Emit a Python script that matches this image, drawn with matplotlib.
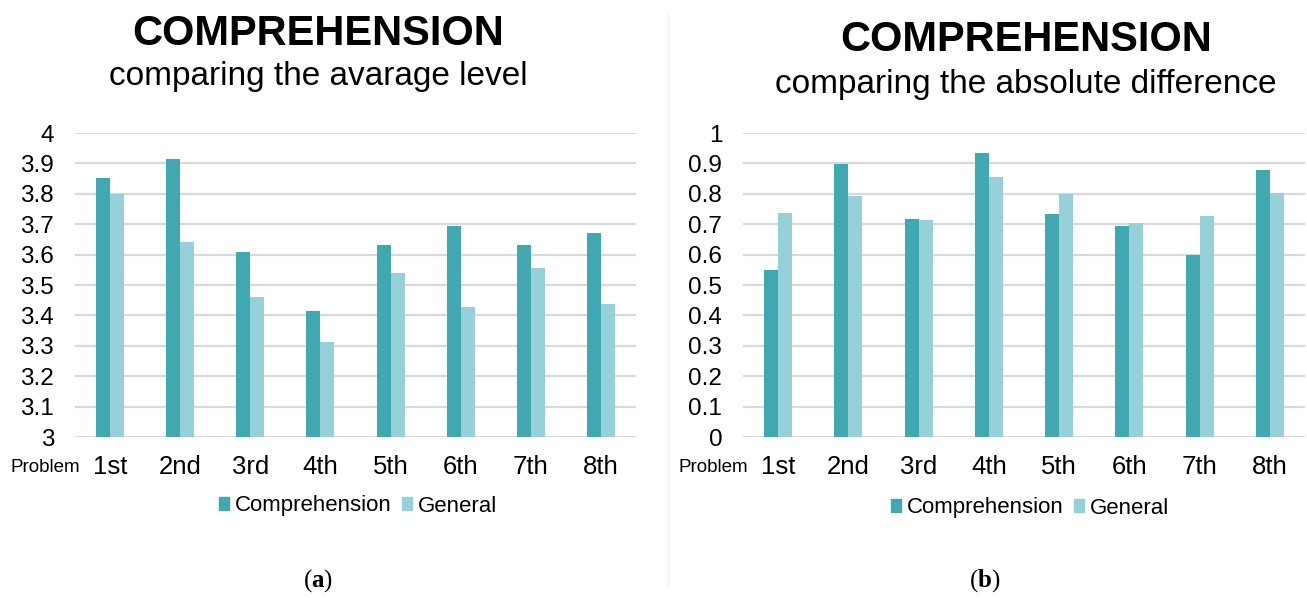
import matplotlib
matplotlib.use("Agg")
import matplotlib.pyplot as plt
import numpy as np
from matplotlib.patches import Patch
from matplotlib.lines import Line2D

plt.rcParams['font.family'] = ['Liberation Sans', 'DejaVu Sans']
plt.rcParams['mathtext.fontset'] = 'custom'
plt.rcParams['mathtext.bf'] = 'Liberation Serif:bold'
plt.rcParams['mathtext.rm'] = 'Liberation Serif'

problems = ['1st', '2nd', '3rd', '4th', '5th', '6th', '7th', '8th']
series_names = ['Comprehension', 'General']

# (a) average level
avg_comp = [3.852, 3.914, 3.608, 3.416, 3.631, 3.693, 3.633, 3.670]
avg_gen = [3.800, 3.640, 3.462, 3.312, 3.540, 3.429, 3.556, 3.437]

# (b) absolute difference
diff_comp = [0.549, 0.899, 0.717, 0.933, 0.735, 0.695, 0.600, 0.879]
diff_gen = [0.737, 0.794, 0.713, 0.856, 0.800, 0.705, 0.727, 0.802]

c_dark = '#40A8B0'
c_light = '#96D0D8'
grid_c = '#D9D9D9'

W, H = 1307, 598
fig = plt.figure(figsize=(W / 100, H / 100), dpi=100)


def draw(ax, comp, gen, ylim, yticks, ylabels):
    x = np.arange(len(problems))
    w = 0.2
    ax.bar(x - w / 2, np.array(comp) - ylim[0], w, bottom=ylim[0], color=c_dark, zorder=3)
    ax.bar(x + w / 2, np.array(gen) - ylim[0], w, bottom=ylim[0], color=c_light, zorder=3)
    ax.set_xlim(-0.5, len(problems) - 0.5)
    ax.set_ylim(ylim)
    ax.set_yticks(yticks)
    ax.set_yticklabels(ylabels)
    ax.set_xticks(x)
    ax.set_xticklabels(problems)
    for t in yticks:
        ax.axhline(t, color=grid_c, lw=1.6, zorder=1)
    for s in ax.spines.values():
        s.set_visible(False)
    ax.tick_params(axis='both', length=0, colors='black')
    ax.tick_params(axis='y', pad=15, labelsize=17.5)
    ax.tick_params(axis='x', pad=13, labelsize=18.5)


# panel (a)
ax1 = fig.add_axes([75 / W, 1 - 437 / H, 561 / W, 304 / H])
t1 = [round(3 + 0.1 * i, 1) for i in range(11)]
draw(ax1, avg_comp, avg_gen, (3, 4), t1, ['3' if v == 3 else '4' if v == 4 else str(v) for v in t1])

# panel (b)
ax2 = fig.add_axes([743 / W, 1 - 437 / H, 562 / W, 304 / H])
t2 = [round(0.1 * i, 1) for i in range(11)]
draw(ax2, diff_comp, diff_gen, (0, 1), t2, ['0' if v == 0 else '1' if v == 1 else str(v) for v in t2])

# titles
fig.text(318 / W, 1 - 34 / H, 'COMPREHENSION', ha='center', va='center', fontsize=30, fontweight='bold')
fig.text(318 / W, 1 - 77 / H, 'comparing the avarage level', ha='center', va='center', fontsize=24)
fig.text(1026 / W, 1 - 40 / H, 'COMPREHENSION', ha='center', va='center', fontsize=30, fontweight='bold')
fig.text(1026 / W, 1 - 84 / H, 'comparing the absolute difference', ha='center', va='center', fontsize=24)

# "Problem" labels
fig.text(45 / W, 1 - 468 / H, 'Problem', ha='center', va='center', fontsize=13.5)
fig.text(713 / W, 1 - 468 / H, 'Problem', ha='center', va='center', fontsize=13.5)

# legends
handles = [Patch(color=c_dark), Patch(color=c_light)]
for cx, cy in [(358, 506), (1030, 508)]:
    fig.legend(handles, series_names, loc='center', bbox_to_anchor=(cx / W, 1 - cy / H),
               ncol=2, frameon=False, fontsize=16, handlelength=0.45, handleheight=0.5,
               handletextpad=0.25, columnspacing=0.5)

# panel letters: plain parens, bold letter
fig.text(318 / W, 1 - 581 / H, r'($\mathbf{a}$)', ha='center', va='center', fontsize=18,
         family='Liberation Serif')
fig.text(985 / W, 1 - 581 / H, r'($\mathbf{b}$)', ha='center', va='center', fontsize=18,
         family='Liberation Serif')

# faint divider between the panels
fig.add_artist(Line2D([668 / W, 668 / W], [0.02, 0.98], color='#F2F2F2', lw=1))

fig.savefig('out.png', dpi=100)
